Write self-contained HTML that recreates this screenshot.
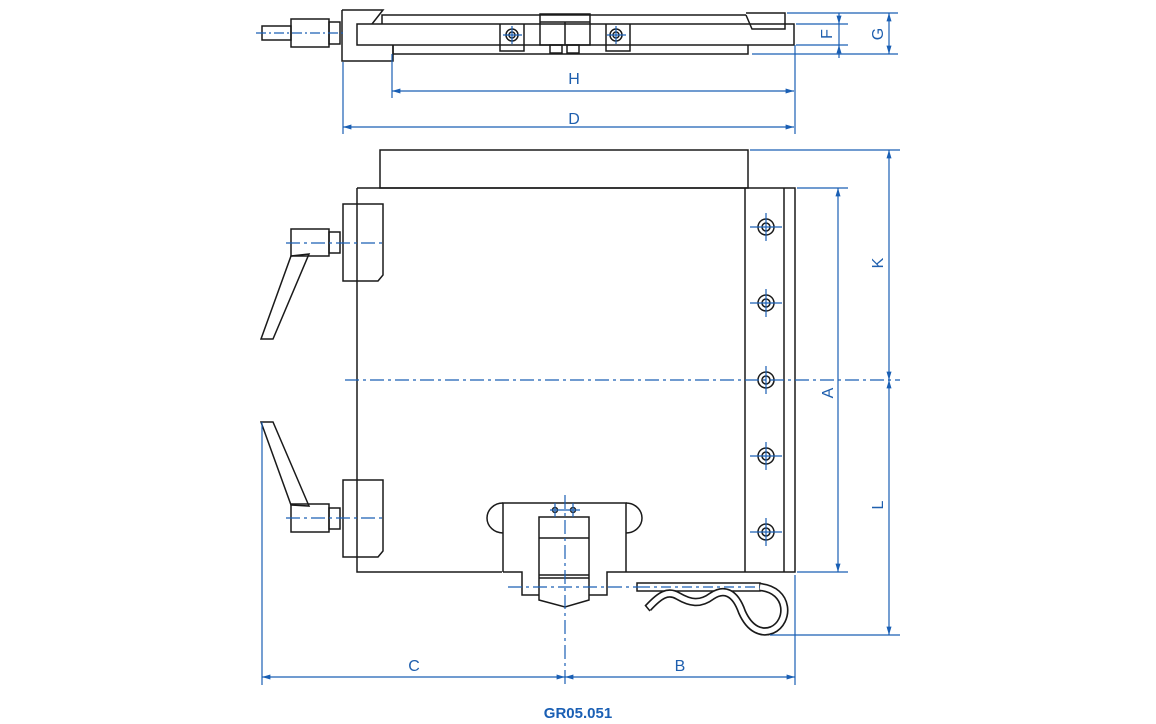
<!DOCTYPE html>
<html><head><meta charset="utf-8"><style>
html,body{margin:0;padding:0;background:#fff;}
svg{display:block;}
text{font-family:"Liberation Sans",sans-serif;fill:#1f5fae;}
</style></head><body>
<svg width="1156" height="724" viewBox="0 0 1156 724" xmlns="http://www.w3.org/2000/svg">
<defs>
<marker id="ar" viewBox="0 0 10 10" refX="10" refY="5" markerWidth="7" markerHeight="7" orient="auto-start-reverse"><path d="M0,2 L10,5 L0,8z" fill="#1a5fb4"/></marker>
</defs>
<g fill="none" stroke="#1a1a1a" stroke-width="1.5">
<!-- TOP VIEW -->
<rect x="262" y="26" width="29" height="14"/>
<rect x="291" y="19" width="38" height="28"/>
<rect x="329" y="22" width="11" height="22"/>
<path d="M342,10 H374 L383,10 L372,24 M342,10 V61 H393 V45"/>
<rect x="357" y="24" width="437" height="21"/>
<path d="M382,24 V15 H746 M393,45 V54 H748 V45"/>
<path d="M746,13 H785 V29 H752 L746,15"/>
<rect x="540" y="14" width="50" height="31"/>
<path d="M540,22 H590 M565,22 V45"/>
<path d="M500,24 V51 H524 V24 M606,24 V51 H630 V24"/>
<rect x="550" y="45" width="12" height="8"/><rect x="567" y="45" width="12" height="8"/>
<circle cx="512" cy="35" r="6"/><circle cx="512" cy="35" r="3"/>
<circle cx="616" cy="35" r="6"/><circle cx="616" cy="35" r="3"/>
<!-- MAIN VIEW -->
<rect x="380" y="150" width="368" height="38"/>
<path d="M357,188 H795 V572 H626 M502,572 H357 V188"/>
<path d="M745,188 V572 M784,188 V572"/>
<!-- clamps -->
<path d="M343,204 H383 V275 L378,281 H343 Z"/>
<rect x="291" y="229" width="38" height="27"/><rect x="329" y="232" width="11" height="21"/>
<polygon points="291,256 309,254 273,339 261,339"/>
<path d="M343,480 H383 V551 L378,557 H343 Z"/>
<rect x="291" y="504" width="38" height="28"/><rect x="329" y="508" width="11" height="21"/>
<polygon points="291,505 309,506 273,422 261,422"/>
<!-- screws -->
<g>
<circle cx="766" cy="227" r="8"/><circle cx="766" cy="227" r="4"/>
<circle cx="766" cy="303" r="8"/><circle cx="766" cy="303" r="4"/>
<circle cx="766" cy="380" r="8"/><circle cx="766" cy="380" r="4"/>
<circle cx="766" cy="456" r="8"/><circle cx="766" cy="456" r="4"/>
<circle cx="766" cy="532" r="8"/><circle cx="766" cy="532" r="4"/>
</g>
<!-- latch -->
<path d="M503,572 V503 H626 V572"/>
<path d="M503,503 A16,15 0 0 0 503,533 M626,503 A16,15 0 0 1 626,533"/>
<path d="M503,572 H522 V595 H539 M626,572 H607 V595 H589"/>
<path d="M539,517 H589 V600 L565,607 L539,600 Z"/>
<path d="M539,538 H589 M539,575 H589 M539,578 H589"/>
<circle cx="555" cy="510" r="2.5"/><circle cx="573" cy="510" r="2.5"/>
<!-- pin -->
<rect x="637" y="583" width="123" height="8"/>
<path d="M648,608 C660,595 668,590 678,596 C690,603 700,605 712,596 C724,588 735,592 742,612 C750,630 762,634 772,630 C790,622 790,590 760,587" stroke="#1a1a1a" stroke-width="8.5"/>
<path d="M648,608 C660,595 668,590 678,596 C690,603 700,605 712,596 C724,588 735,592 742,612 C750,630 762,634 772,630 C790,622 790,590 760,587" stroke="#fff" stroke-width="5.2"/>
<path d="M645,605 L650,611"/>
</g>
<!-- blue dimension lines -->
<g stroke="#1a5fb4" stroke-width="1.2" fill="none">
<path d="M256,33 H345" stroke-dasharray="10,3,2,3"/>
<path d="M503,35 H522 M512,26 V44 M607,35 H626 M616,26 V44"/>
<path d="M343,62 V134 M392,54 V98 M795,45 V134"/>
<path d="M392,91 H794" marker-start="url(#ar)" marker-end="url(#ar)"/>
<path d="M343,127 H794" marker-start="url(#ar)" marker-end="url(#ar)"/>
<path d="M787,13 H898 M796,24 H848 M796,45 H848 M752,54 H898"/>
<path d="M839,13 V24" marker-end="url(#ar)"/><path d="M839,45 V58" marker-start="url(#ar)"/>
<path d="M839,24 V45"/>
<path d="M889,13 V54" marker-start="url(#ar)" marker-end="url(#ar)"/>
<path d="M345,380 H900" stroke-dasharray="14,4,3,4"/>
<path d="M286,243 H386 M286,518 H386" stroke-dasharray="14,4,3,4"/>
<path d="M750,227 H782 M766,213 V241 M750,303 H782 M766,289 V317 M750,456 H782 M766,442 V470 M750,532 H782 M766,518 V546 M766,366 V394"/>
<path d="M750,150 H900 M797,188 H848 M797,572 H848 M770,635 H900"/>
<path d="M838,188 V572" marker-start="url(#ar)" marker-end="url(#ar)"/>
<path d="M889,150 V380" marker-start="url(#ar)" marker-end="url(#ar)"/>
<path d="M889,380 V635" marker-start="url(#ar)" marker-end="url(#ar)"/>
<path d="M262,422 V685 M795,575 V685"/>
<path d="M565,495 V685" stroke-dasharray="14,4,3,4"/>
<path d="M550,510 H580 M555,503 V517 M573,503 V517"/>
<path d="M508,587 H640" stroke-dasharray="14,4,3,4"/>
<path d="M640,587 H760" stroke-dasharray="10,4,3,4"/>
<path d="M262,677 H565" marker-start="url(#ar)" marker-end="url(#ar)"/>
<path d="M565,677 H795" marker-start="url(#ar)" marker-end="url(#ar)"/>
</g>
<g font-size="16">
<text x="574" y="84" text-anchor="middle">H</text>
<text x="574" y="124" text-anchor="middle">D</text>
<text x="414" y="671" text-anchor="middle">C</text>
<text x="680" y="671" text-anchor="middle">B</text>
<text transform="translate(832,34) rotate(-90)" text-anchor="middle">F</text>
<text transform="translate(883,34) rotate(-90)" text-anchor="middle">G</text>
<text transform="translate(883,263) rotate(-90)" text-anchor="middle">K</text>
<text transform="translate(833,393) rotate(-90)" text-anchor="middle">A</text>
<text transform="translate(883,505) rotate(-90)" text-anchor="middle">L</text>
</g>
<text x="578" y="718" text-anchor="middle" font-size="15" font-weight="bold" style="fill:#1a5fb4">GR05.051</text>
</svg>
</body></html>
